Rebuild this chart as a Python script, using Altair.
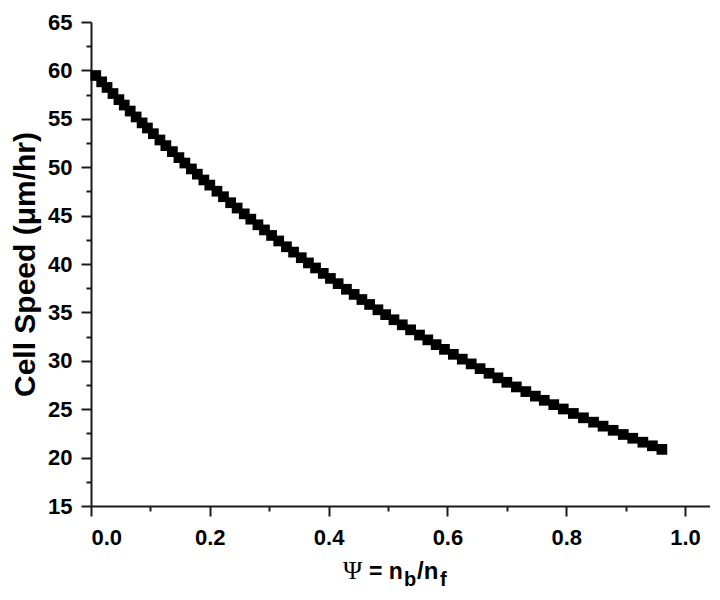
import altair as alt
import pandas as pd

# Values
psi = [0.008, 0.018, 0.027, 0.037, 0.047, 0.056, 0.066, 0.076, 0.086, 0.095,
       0.105, 0.116, 0.126, 0.137, 0.148, 0.158, 0.169, 0.179, 0.190, 0.200,
       0.212, 0.223, 0.235, 0.246, 0.258, 0.269, 0.281, 0.292, 0.304, 0.316,
       0.329, 0.341, 0.354, 0.366, 0.378, 0.391, 0.403, 0.416, 0.430, 0.443,
       0.456, 0.469, 0.483, 0.496, 0.510, 0.524, 0.538, 0.553, 0.567, 0.581,
       0.595, 0.610, 0.625, 0.640, 0.655, 0.670, 0.685, 0.700, 0.716, 0.732,
       0.748, 0.763, 0.779, 0.795, 0.812, 0.829, 0.846, 0.862, 0.879, 0.896,
       0.912, 0.929, 0.945, 0.961]
speed = [59.47, 58.82, 58.24, 57.61, 56.98, 56.42, 55.80, 55.19, 54.58, 54.05,
         53.46, 52.81, 52.23, 51.61, 50.99, 50.43, 49.82, 49.28, 48.68, 48.15,
         47.52, 46.95, 46.33, 45.78, 45.18, 44.63, 44.05, 43.52, 42.95, 42.38,
         41.78, 41.23, 40.65, 40.11, 39.59, 39.03, 38.51, 37.97, 37.39, 36.86,
         36.33, 35.82, 35.27, 34.77, 34.24, 33.72, 33.20, 32.66, 32.16, 31.67,
         31.18, 30.67, 30.17, 29.68, 29.19, 28.71, 28.24, 27.78, 27.30, 26.82,
         26.35, 25.92, 25.47, 25.02, 24.56, 24.11, 23.66, 23.25, 22.82, 22.39,
         22.00, 21.59, 21.22, 20.85]

x_ticks = [0.0, 0.1, 0.2, 0.3, 0.4, 0.5, 0.6, 0.7, 0.8, 0.9, 1.0]
y_ticks = [15, 17.5, 20, 22.5, 25, 27.5, 30, 32.5, 35, 37.5, 40, 42.5, 45,
           47.5, 50, 52.5, 55, 57.5, 60, 62.5, 65]

y_title = "Cell Speed (μm/hr)"

df = pd.DataFrame({"psi": psi, "speed": speed})

W, H = 619, 484
SANS = "Liberation Sans"

points = alt.Chart(df).mark_square(size=115, color="black", opacity=1, filled=True).encode(
    x=alt.X("psi:Q",
            scale=alt.Scale(domain=[0, 1.042], nice=False, zero=False),
            axis=alt.Axis(values=x_ticks, title=None,
                          labelExpr="round(datum.value*10) % 2 === 0 ? format(datum.value, '.1f') : ''",
                          tickSize={"condition": {"test": "round(datum.value*10) % 2 !== 0", "value": 5}, "value": 10},
                          labelPadding=11)),
    y=alt.Y("speed:Q",
            scale=alt.Scale(domain=[15, 65], nice=False, zero=False),
            axis=alt.Axis(values=y_ticks, title=y_title,
                          labelExpr="datum.value % 5 === 0 ? format(datum.value, 'd') : ''",
                          tickSize={"condition": {"test": "datum.value % 5 !== 0", "value": 5}, "value": 10},
                          labelPadding=9, titlePadding=7)),
)


def piece(text, x, y, size, font, weight):
    return alt.Chart(pd.DataFrame({"t": [text]})).mark_text(
        align="left", baseline="alphabetic", font=font, fontSize=size,
        fontWeight=weight, color="black"
    ).encode(x=alt.value(x), y=alt.value(y), text="t:N")


BASE = H + 73
SUB = H + 80
title_layers = [
    piece("Ψ", 252, BASE, 26, "Liberation Serif", "normal"),
    piece("= n", 278, BASE, 23, SANS, "bold"),
    piece("b", 313, SUB, 20, SANS, "bold"),
    piece("/n", 326, BASE, 24, SANS, "bold"),
    piece("f", 349, SUB, 20, SANS, "bold"),
]

chart = alt.layer(points, *title_layers).properties(
    width=W, height=H,
    padding={"left": 2, "top": 3, "right": 0, "bottom": 0},
).configure_view(stroke=None).configure_axis(
    grid=False,
    domainColor="#1a1a1a", domainWidth=2,
    tickColor="#1a1a1a", tickWidth=2,
    labelFont=SANS, labelFontSize=22, labelFontWeight="bold", labelColor="black",
    titleFont=SANS, titleFontSize=30, titleFontWeight="bold", titleColor="black",
)

chart.save("out.html", embed_options={"renderer": "svg", "actions": False})
